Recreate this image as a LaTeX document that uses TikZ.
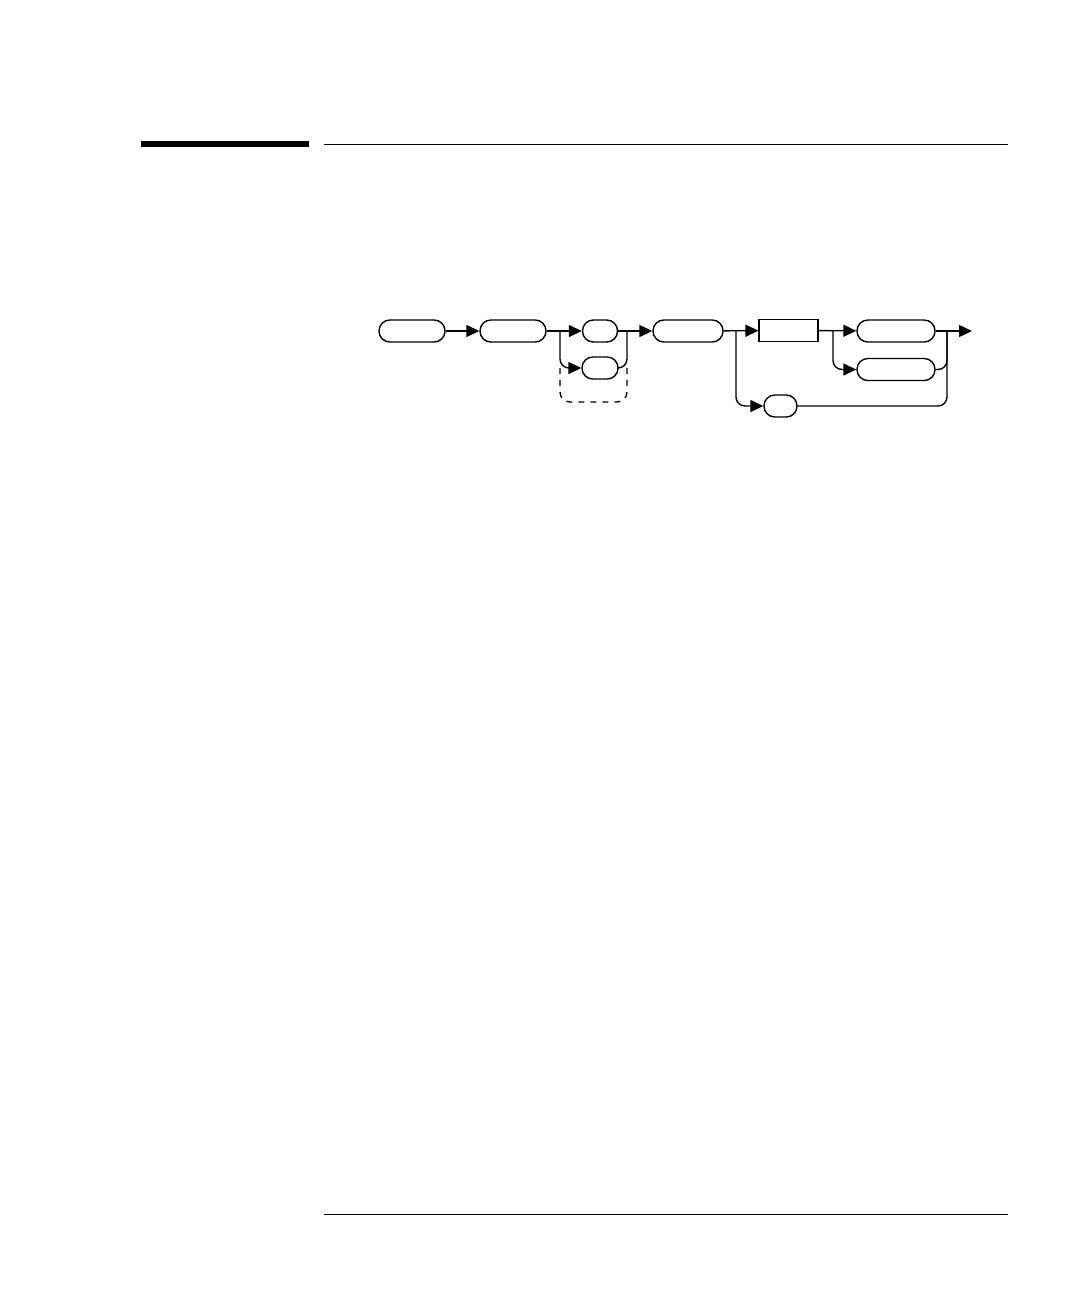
\documentclass[tikz,border=0pt]{standalone}
\usepackage{tikz}
\usetikzlibrary{arrows.meta}

\tikzset{
    term/.style={draw, line width=0.7pt, rounded corners=5.4pt, minimum height=11pt, inner sep=0pt},
    param/.style={draw, line width=0.55pt, minimum height=11pt, inner sep=0pt},
    flow/.style={line width=0.7pt, -{Triangle[length=6.5pt,width=6pt]}},
    rejoin/.style={line width=0.7pt, rounded corners=4.5pt}
}

\begin{document}
\begin{tikzpicture}[x=0.5pt,y=-0.5pt]
    \useasboundingbox (0,0) rectangle (1080,1296);

    % page rules
    \fill (141,141) rectangle (309,147);
    \draw[line width=0.65pt] (324,144.5) -- (1008,144.5);
    \draw[line width=0.65pt] (324,1214.5) -- (1008,1214.5);

    % syntax boxes
    \node[term, minimum width=33pt] (root) at (412,331) {};
    \node[term, minimum width=33pt] (sub) at (513,331) {};
    \node[term, minimum width=17.5pt] (optA) at (600,331) {};
    \node[term, minimum width=18pt] (optB) at (600,368) {};
    \node[term, minimum width=35pt] (cmd) at (688,331) {};
    \node[param, minimum width=29.5pt] (arg) at (788.5,330.5) {};
    \node[term, minimum width=39pt] (valA) at (896,331) {};
    \node[term, minimum width=39pt] (valB) at (896,369.5) {};
    \node[term, minimum width=16.5pt] (query) at (780.5,406) {};

    % branch and merge points
    \coordinate (forkA) at (560,331);
    \coordinate (mergeA) at (627,331);
    \coordinate (forkB) at (736,331);
    \coordinate (forkC) at (833,331);
    \coordinate (mergeB) at (947,331);
    \coordinate (exit) at (972,331);

    % main line
    \draw[flow] (root) -- (sub);
    \draw[flow] (sub) -- (optA);
    \draw[flow] (optA) -- (cmd);
    \draw[flow] (cmd) -- (arg);
    \draw[flow] (arg) -- (valA);
    \draw[flow] (valA) -- (exit);

    % choices
    \draw[flow, rounded corners=4.5pt] (forkA) |- (optB);
    \draw[rejoin] (optB) -| (mergeA);
    \draw[line width=0.7pt, dashed, rounded corners=5pt] (560,368) -- (560,402) -- (627,402) -- (627,368);
    \draw[flow, rounded corners=4.5pt] (forkB) |- (query);
    \draw[flow, rounded corners=4.5pt] (forkC) |- (valB);
    \draw[rejoin] (valB) -| (mergeB);
    \draw[rejoin] (query) -| (mergeB);
\end{tikzpicture}
\end{document}
